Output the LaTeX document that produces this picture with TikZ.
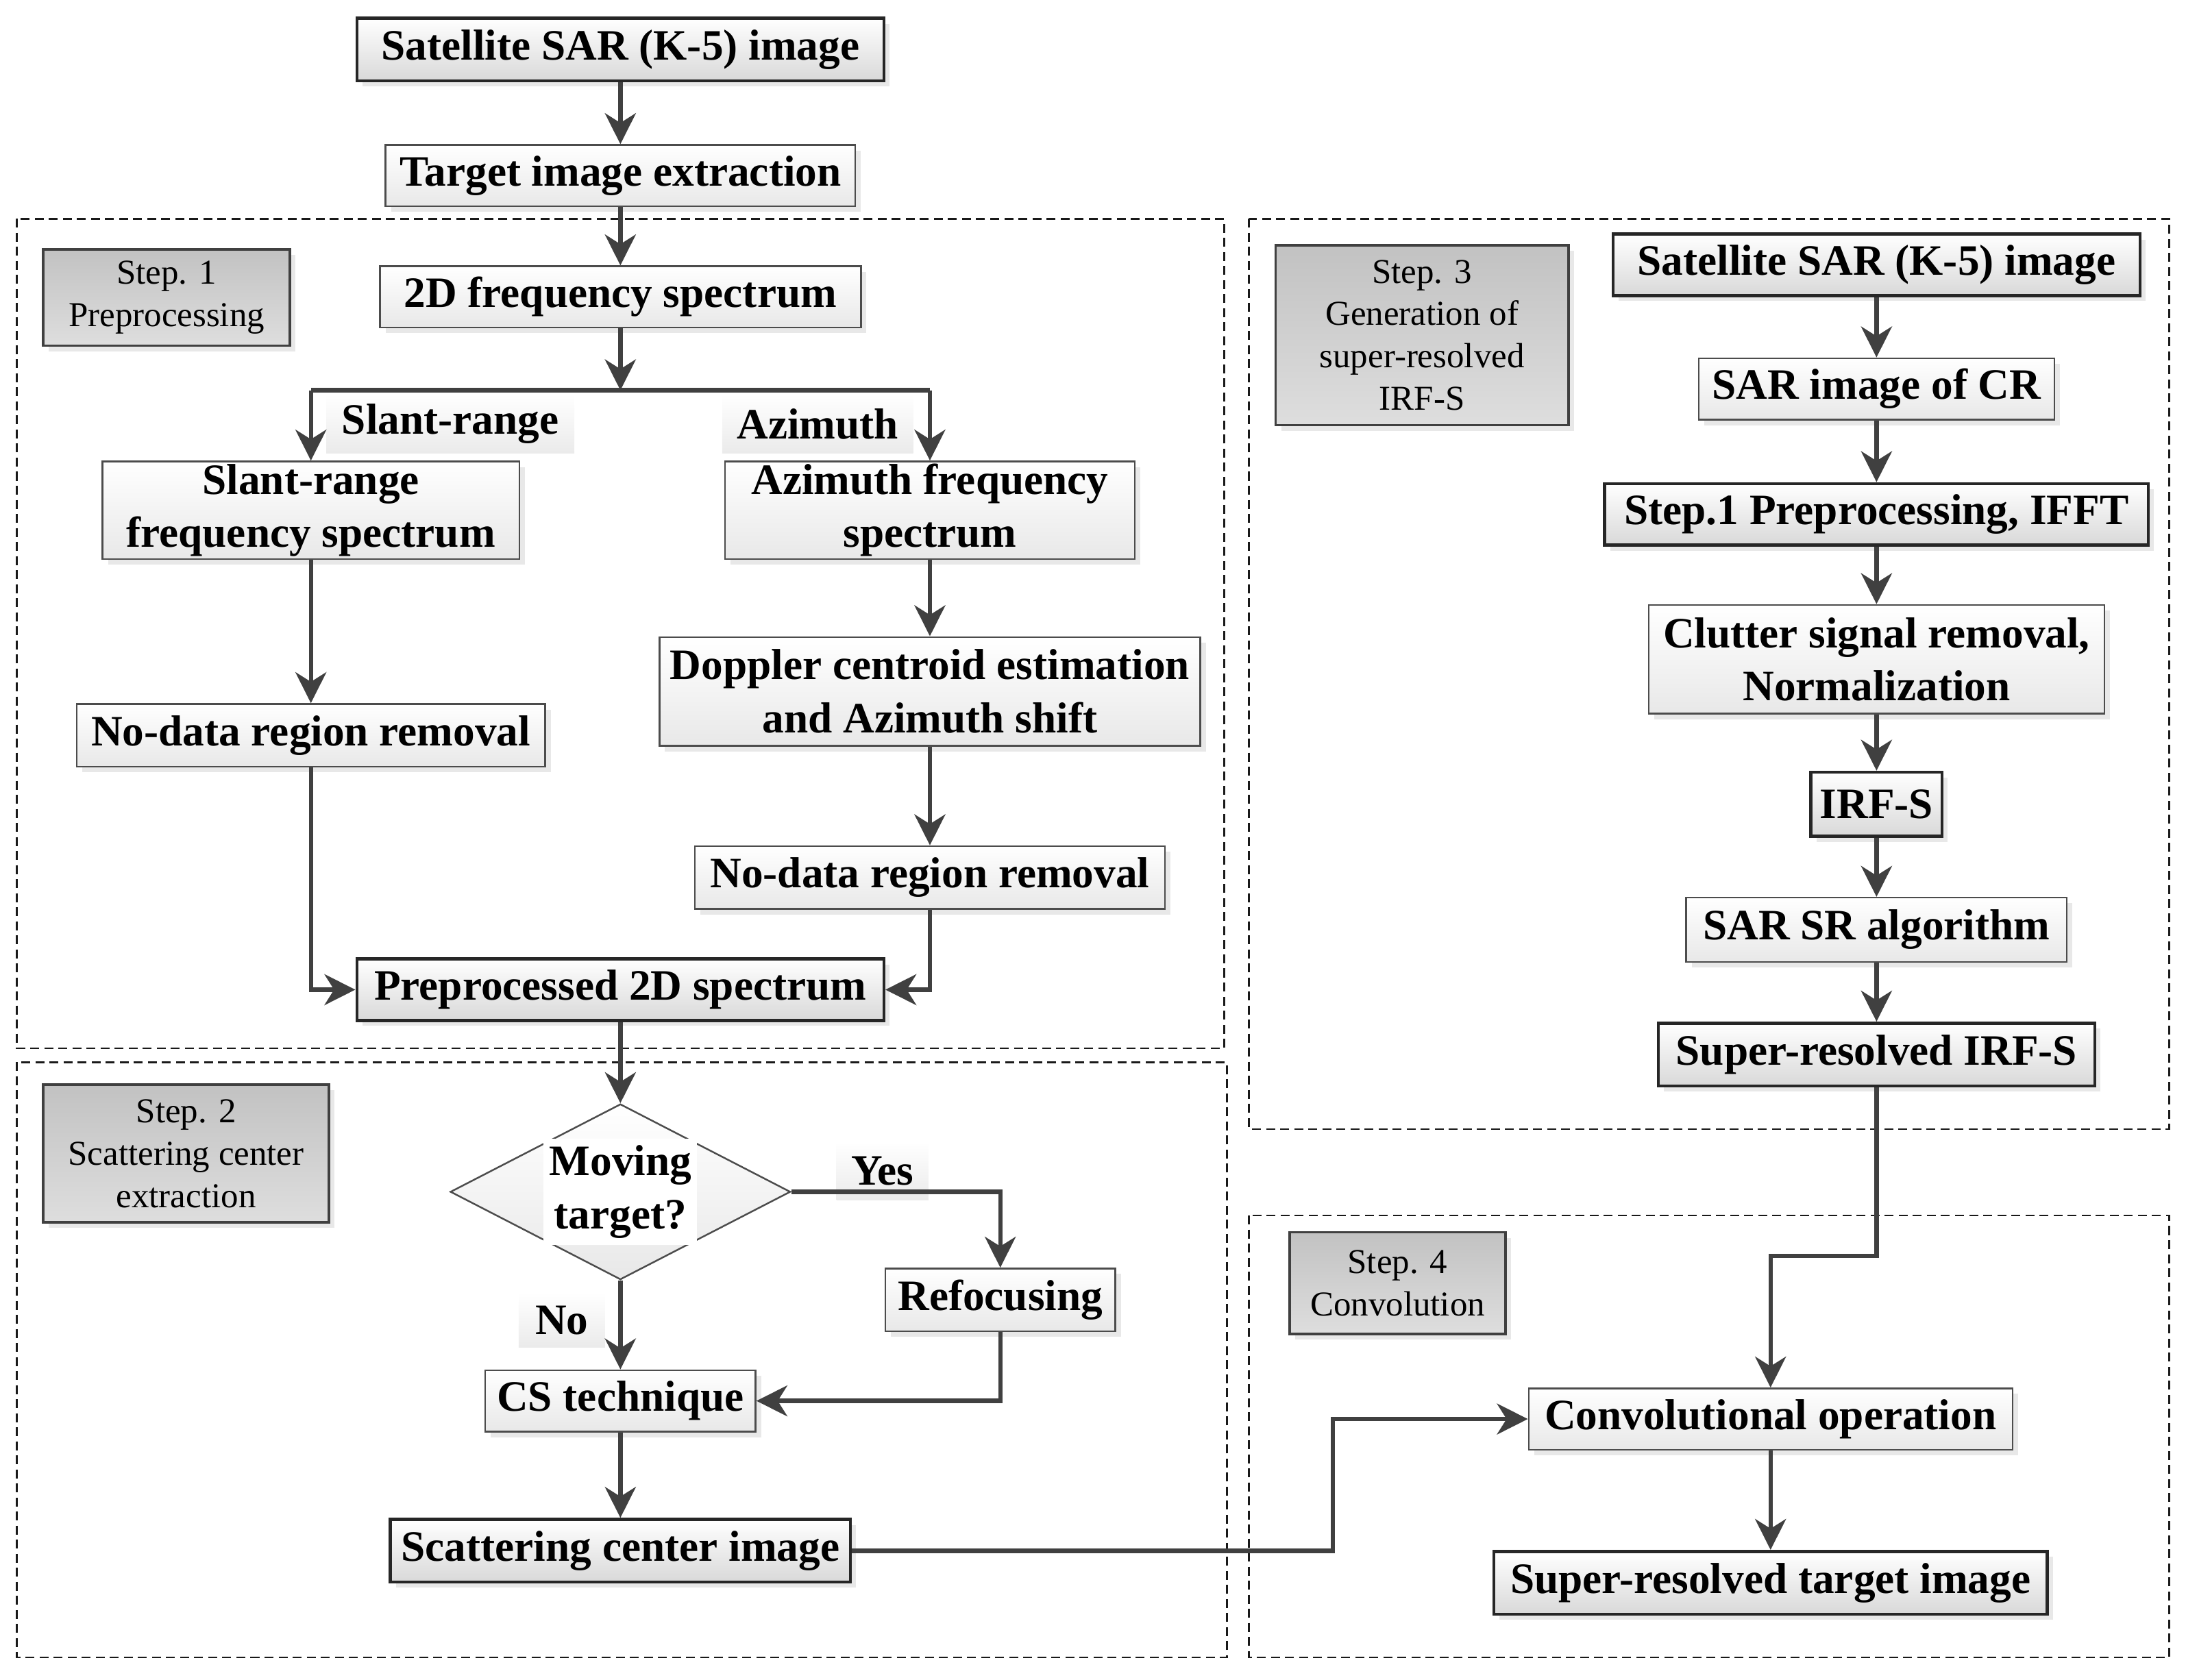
\documentclass[tikz,border=0pt]{standalone}
\usepackage{fontspec}
\setmainfont{Liberation Serif}
\usetikzlibrary{arrows.meta,shapes.geometric,shadows}
\newlength{\px}
\setlength{\px}{0.02034cm}

\begin{document}
\begin{tikzpicture}[x=0.02034cm, y=-0.02034cm,
  box/.style={draw=black!70, line width=0.7pt, top color=white, bottom color=black!9,
    drop shadow={shadow xshift=4\px, shadow yshift=-4\px, fill=black!30, opacity=0.3},
    inner sep=0pt, align=center, font=\fontsize{18}{22}\selectfont\bfseries},
  darkbox/.style={box, draw=black!85, line width=1.3pt, bottom color=black!15},
  steplabel/.style={draw=black!75, line width=1pt, top color=black!24, bottom color=black!13,
    drop shadow={shadow xshift=4\px, shadow yshift=-4\px, fill=black!30, opacity=0.3},
    inner sep=0pt, align=center, font=\fontsize{14.5}{17.6}\selectfont},
  tag/.style={top color=white, bottom color=black!8, inner sep=0pt,
    font=\fontsize{18}{22}\selectfont\bfseries},
  stepframe/.style={draw=black!90, line width=0.8pt, dash pattern=on 0.13cm off 0.075cm},
  conn/.style={draw=black!75, line width=1.8pt},
  arr/.style={conn, -{Stealth[length=0.45cm, width=0.45cm, inset=0.14cm]}}]

  \useasboundingbox (0,0) rectangle (1568,1205);

  \draw[stepframe] (12,157) rectangle (878,752);
  \draw[stepframe] (12,762) rectangle (880,1189);
  \draw[stepframe] (896,157) rectangle (1556,810);
  \draw[stepframe] (896,872) rectangle (1556,1189);

  \node[steplabel, minimum width=177\px, minimum height=69\px] (s1lab) at (119.5,213.5) {Step. 1\\Preprocessing};
  \node[steplabel, minimum width=205\px, minimum height=99\px] (s2lab) at (133.5,827.5) {Step. 2\\Scattering center\\extraction};
  \node[steplabel, minimum width=210\px, minimum height=129\px] (s3lab) at (1020,240.5) {Step. 3\\Generation of\\super-resolved\\IRF-S};
  \node[steplabel, minimum width=155\px, minimum height=73\px] (s4lab) at (1002.5,920.5) {Step. 4\\Convolution};

  \node[darkbox, minimum width=378\px, minimum height=45\px] (sat1) at (445,35.5) {Satellite SAR (K-5) image};
  \node[box, minimum width=337\px, minimum height=44\px] (tie) at (445,126) {Target image extraction};
  \node[box, minimum width=345\px, minimum height=44\px] (f2d) at (445,213) {2D frequency spectrum};
  \node[box, minimum width=299\px, minimum height=70\px] (srfs) at (223,366) {Slant-range\\frequency spectrum};
  \node[box, minimum width=294\px, minimum height=70\px] (azfs) at (667,366) {Azimuth frequency\\spectrum};
  \node[box, minimum width=336\px, minimum height=45\px] (ndr1) at (223,527.5) {No-data region removal};
  \node[box, minimum width=388\px, minimum height=78\px] (dce) at (667,496) {Doppler centroid estimation\\and Azimuth shift};
  \node[box, minimum width=337\px, minimum height=45\px] (ndr2) at (667,629.5) {No-data region removal};
  \node[darkbox, minimum width=378\px, minimum height=44\px] (pre2d) at (445,710) {Preprocessed 2D spectrum};

  \node[tag, minimum width=178\px, minimum height=42\px] (slant) at (323,304) {Slant-range};
  \node[tag, minimum width=137\px, minimum height=42\px] (azim) at (586.5,304) {Azimuth};

  \node[diamond, draw=black!70, line width=0.7pt, top color=white, bottom color=black!9,
    minimum width=244\px, minimum height=126\px, inner sep=0pt] (mov) at (445,855) {};
  \node[fill=white, inner xsep=4\px, inner ysep=5\px, align=center, font=\fontsize{18}{22}\selectfont\bfseries] (movtxt) at (mov) {Moving\\target?};
  \node[tag, minimum width=66\px, minimum height=42\px] (yes) at (633,840) {Yes};
  \node[tag, minimum width=62\px, minimum height=39\px] (no) at (403,947) {No};
  \node[box, minimum width=165\px, minimum height=45\px] (refoc) at (717.5,932.5) {Refocusing};
  \node[box, minimum width=194\px, minimum height=44\px] (cs) at (445,1005) {CS technique};
  \node[darkbox, minimum width=330\px, minimum height=45\px] (sci) at (445,1112.5) {Scattering center image};

  \node[darkbox, minimum width=378\px, minimum height=44\px] (sat2) at (1346,190) {Satellite SAR (K-5) image};
  \node[box, minimum width=255\px, minimum height=44\px] (sarcr) at (1346,279) {SAR image of CR};
  \node[darkbox, minimum width=390\px, minimum height=44\px] (pre) at (1346,369) {Step.1 Preprocessing, IFFT};
  \node[box, minimum width=327\px, minimum height=78\px] (clutter) at (1346,473) {Clutter signal removal,\\Normalization};
  \node[darkbox, minimum width=94\px, minimum height=46\px] (irfs) at (1346,577) {IRF-S};
  \node[box, minimum width=273\px, minimum height=46\px] (sr) at (1346,667) {SAR SR algorithm};
  \node[darkbox, minimum width=313\px, minimum height=45\px] (sirfs) at (1346,756.5) {Super-resolved IRF-S};

  \node[box, minimum width=347\px, minimum height=44\px] (conv) at (1270,1018) {Convolutional operation};
  \node[darkbox, minimum width=397\px, minimum height=45\px] (srti) at (1270,1135.5) {Super-resolved target image};

  \coordinate (br) at (445,280);
  \coordinate (brL) at (223,280);
  \coordinate (brR) at (667,280);
  \coordinate (jog) at (956,1018);
  \coordinate (knee) at (1270,901);

  \draw[arr] (sat1) -- (tie);
  \draw[arr] (tie) -- (f2d);
  \draw[arr] (f2d) -- (br);
  \draw[conn] (brL) -- (brR);
  \draw[arr] (brL) -- (srfs);
  \draw[arr] (brR) -- (azfs);
  \draw[arr] (srfs) -- (ndr1);
  \draw[arr] (azfs) -- (dce);
  \draw[arr] (dce) -- (ndr2);
  \draw[arr] (ndr1) |- (pre2d);
  \draw[arr] (ndr2) |- (pre2d);
  \draw[arr] (pre2d) -- (mov);
  \draw[arr] (mov) -| (refoc);
  \draw[arr] (mov) -- (cs);
  \draw[arr] (refoc) |- (cs);
  \draw[arr] (cs) -- (sci);
  \draw[arr] (sci.east) -| (jog) -- (conv.west);

  \draw[arr] (sat2) -- (sarcr);
  \draw[arr] (sarcr) -- (pre);
  \draw[arr] (pre) -- (clutter);
  \draw[arr] (clutter) -- (irfs);
  \draw[arr] (irfs) -- (sr);
  \draw[arr] (sr) -- (sirfs);
  \draw[arr] (sirfs.south) |- (knee) -- (conv.north);
  \draw[arr] (conv) -- (srti);
\end{tikzpicture}
\end{document}
